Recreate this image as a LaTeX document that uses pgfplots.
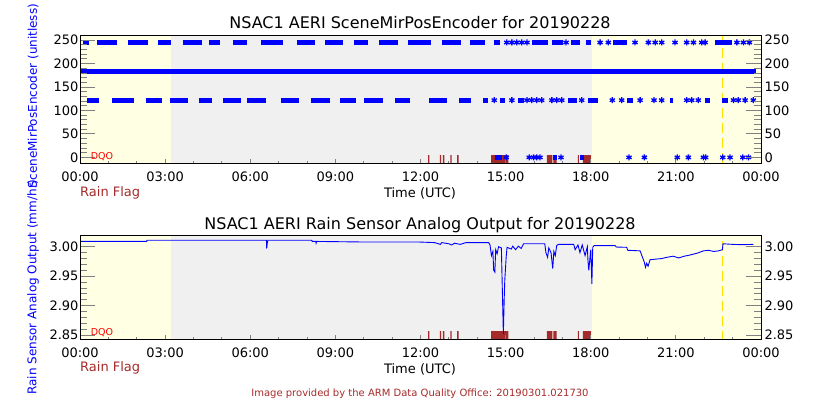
\documentclass[border=0pt]{standalone}
\usepackage{fontspec}
\setmainfont{DejaVu Sans}
\usepackage{pgfplots}
\usepackage{pgfplotstable}
\pgfplotsset{compat=1.18}

\definecolor{bgyellow}{RGB}{255,255,228}
\definecolor{bggray}{RGB}{240,240,240}
\definecolor{flagred}{RGB}{165,42,42}
\definecolor{dqred}{RGB}{255,0,0}
\definecolor{dashyel}{RGB}{255,225,0}

\newcommand{\tfont}{\fontsize{13}{15}\selectfont}

% SceneMirPosEncoder: dense runs drawn as thick bands (nan = gap)
\pgfplotstableread{
t v
0.09 245
0.33 245
nan nan
0.59 245
1.32 245
nan nan
1.70 245
2.39 245
nan nan
2.76 245
3.21 245
nan nan
3.62 245
4.29 245
nan nan
4.56 245
4.93 245
nan nan
5.40 245
5.88 245
nan nan
6.38 245
7.17 245
nan nan
7.66 245
8.29 245
nan nan
8.64 245
9.28 245
nan nan
9.67 245
10.14 245
nan nan
10.54 245
11.20 245
nan nan
11.57 245
12.36 245
nan nan
12.75 245
13.42 245
nan nan
13.75 245
14.28 245
nan nan
14.58 245
14.80 245
nan nan
15.92 245
16.51 245
nan nan
16.63 245
17.01 245
nan nan
17.31 245
17.62 245
nan nan
17.84 245
18.00 245
nan nan
18.80 245
19.27 245
nan nan
22.38 245
22.97 245
nan nan
0.26 122
0.68 122
nan nan
1.12 122
1.90 122
nan nan
2.31 122
2.88 122
nan nan
3.17 122
3.82 122
nan nan
4.21 122
4.65 122
nan nan
5.05 122
5.66 122
nan nan
5.90 122
6.56 122
nan nan
7.07 122
7.73 122
nan nan
8.13 122
8.81 122
nan nan
9.16 122
9.73 122
nan nan
10.02 122
10.67 122
nan nan
11.10 122
11.63 122
nan nan
12.31 122
12.93 122
nan nan
13.36 122
13.78 122
nan nan
14.22 122
14.39 122
nan nan
14.80 122
14.98 122
nan nan
15.45 122
15.63 122
nan nan
17.21 122
17.51 122
nan nan
17.92 122
18.27 122
nan nan
19.27 122
19.50 122
nan nan
20.80 122
20.91 122
nan nan
22.03 122
22.21 122
nan nan
22.62 122
22.85 122
nan nan
14.63 0
14.86 0
nan nan
16.66 0
16.82 0
nan nan
17.62 0
17.76 0
}\segs

% isolated samples
\pgfplotstableread{
t v
15.04 245
15.22 245
15.39 245
15.57 245
15.75 245
17.13 245
18.33 245
18.62 245
19.56 245
20.03 245
20.27 245
20.50 245
20.97 245
21.38 245
21.62 245
21.91 245
22.03 245
23.15 245
23.38 245
23.59 245
14.60 122
15.22 122
15.75 122
15.92 122
16.10 122
16.27 122
16.63 122
16.80 122
16.98 122
17.68 122
18.76 122
19.09 122
19.74 122
20.23 122
20.50 122
21.38 122
21.56 122
21.79 122
23.03 122
23.20 122
23.44 122
23.73 122
15.02 0
15.83 0
15.98 0
16.10 0
16.21 0
16.95 0
19.35 0
19.89 0
21.05 0
21.44 0
21.97 0
22.05 0
22.65 0
22.91 0
23.36 0
23.56 0
}\stars

% rain flag intervals (f=1 flagged)
\pgfplotstableread{
t f
12.27 0
12.27 1
12.31 1
12.31 0
12.68 0
12.68 1
12.73 1
12.73 0
12.79 0
12.79 1
12.84 1
12.84 0
13.05 0
13.05 1
13.10 1
13.10 0
13.29 0
13.29 1
13.34 1
13.34 0
14.49 0
14.49 1
15.10 1
15.10 0
16.45 0
16.45 1
16.65 1
16.65 0
16.68 0
16.68 1
16.80 1
16.80 0
17.55 0
17.55 1
17.58 1
17.58 0
17.72 0
17.72 1
18.00 1
18.00 0
}\flags

% rain sensor analog output
\pgfplotstableread{
t v
0.00 3.009
2.35 3.009
2.36 3.011
6.57 3.011
6.58 2.997
6.60 3.006
6.62 3.011
8.17 3.011
8.18 3.009
8.31 3.009
8.32 3.006
8.34 3.009
10.02 3.008
10.66 3.008
11.95 3.008
12.50 3.007
12.70 3.004
12.75 3.007
13.00 3.005
13.10 3.003
13.20 3.006
13.40 3.004
13.60 3.007
14.40 3.007
14.45 3.003
14.50 2.985
14.55 2.992
14.58 2.960
14.62 2.957
14.65 2.995
14.70 2.988
14.75 3.000
14.85 2.998
14.92 2.852
14.95 2.912
14.97 2.943
15.02 2.983
15.05 2.999
15.20 2.996
15.25 3.001
15.35 2.995
15.45 3.001
15.55 2.997
15.63 3.005
16.38 3.005
16.42 2.990
16.48 2.982
16.52 2.998
16.60 2.990
16.66 2.963
16.70 2.992
16.75 2.985
16.80 3.002
16.86 3.004
17.40 3.004
17.45 2.995
17.55 3.003
17.62 2.990
17.70 3.003
17.80 2.985
17.88 3.000
17.90 2.978
17.93 2.960
17.96 2.975
18.00 2.995
18.04 2.937
18.07 2.999
18.12 3.002
18.86 3.002
18.90 2.9995
19.27 2.999
19.30 2.994
19.74 2.993
19.80 2.985
19.88 2.975
19.93 2.965
19.97 2.972
20.02 2.967
20.09 2.978
20.30 2.979
20.50 2.980
20.68 2.982
20.90 2.984
21.10 2.981
21.30 2.984
21.50 2.986
21.75 2.989
21.97 2.993
22.15 2.994
22.33 2.992
22.50 2.993
22.64 2.995
22.66 3.005
23.00 3.004
23.30 3.0035
23.73 3.004
}\rain

\pgfplotsset{
  base/.style={scale only axis, width=681pt, xmin=0, xmax=24, anchor=south west,
    tick label style={font=\tfont}, /pgf/number format/assume math mode=true,
    tick align=inside, axis line style={line width=0.9pt}, tick style={line width=0.9pt}},
  mainax/.style={base, axis on top, xtick={0,3,...,24},
    xticklabels={00:00,03:00,06:00,09:00,12:00,15:00,18:00,21:00,00:00},
    minor x tick num=2, xtick pos=bottom, ytick=\empty,
    major tick length=4pt, minor tick length=2pt, xticklabel style={yshift=-5pt},
    unbounded coords=jump},
  yleft/.style={base, hide x axis, axis y line*=left, major tick length=15pt,
    minor tick length=7pt, yticklabel style={xshift=2pt}},
  yright/.style={base, hide x axis, axis y line*=right, major tick length=15pt,
    minor tick length=7pt},
  toppanel/.style={at={(80pt,237pt)}, height=128pt, ymin=-12, ymax=261},
  botpanel/.style={at={(80pt,60.7pt)}, height=104.3pt, ymin=2.843, ymax=3.0199},
  topticks/.style={ytick={0,50,...,250}, minor y tick num=4},
  botticks/.style={ytick={2.85,2.90,2.95,3.00}, minor y tick num=4,
    yticklabel style={/pgf/number format/fixed, /pgf/number format/fixed zerofill,
    /pgf/number format/precision=2}},
}

\begin{document}
\begin{tikzpicture}
\useasboundingbox (0,0) rectangle (840pt,400pt);

% ---------------- top panel
\begin{axis}[mainax, toppanel]
\addplot[fill=bgyellow, draw=none] coordinates {(0,-12) (0,261) (3.2,261) (3.2,-12)};
\addplot[fill=bggray, draw=none] coordinates {(3.2,-12) (3.2,261) (18.04,261) (18.04,-12)};
\addplot[fill=bgyellow, draw=none] coordinates {(18.04,-12) (18.04,261) (24,261) (24,-12)};
\addplot[fill=flagred, draw=none] table[x=t, y expr=-13+\thisrow{f}*18] {\flags};
\addplot[dashyel, line width=1pt, dash pattern=on 10pt off 5pt] coordinates {(22.64,-12) (22.64,261)};
\addplot[blue, line width=5pt] coordinates {(0,183) (23.83,183)};
\addplot[blue, line width=5pt] table[x=t, y=v] {\segs};
\addplot[blue, only marks, mark=asterisk, mark size=3pt, line width=1.3pt] table[x=t, y=v] {\stars};
\end{axis}
\begin{axis}[yleft, toppanel, topticks]
\end{axis}
\begin{axis}[yright, toppanel, topticks]
\end{axis}

% ---------------- bottom panel
\begin{axis}[mainax, botpanel]
\addplot[fill=bgyellow, draw=none] coordinates {(0,2.84) (0,3.03) (3.2,3.03) (3.2,2.84)};
\addplot[fill=bggray, draw=none] coordinates {(3.2,2.84) (3.2,3.03) (18.04,3.03) (18.04,2.84)};
\addplot[fill=bgyellow, draw=none] coordinates {(18.04,2.84) (18.04,3.03) (24,3.03) (24,2.84)};
\addplot[fill=flagred, draw=none] table[x=t, y expr=2.840+\thisrow{f}*0.017] {\flags};
\addplot[dashyel, line width=1pt, dash pattern=on 10pt off 5pt] coordinates {(22.64,2.84) (22.64,3.03)};
\addplot[blue, line width=0.9pt] table[x=t, y=v] {\rain};
\end{axis}
\begin{axis}[yleft, botpanel, botticks]
\end{axis}
\begin{axis}[yright, botpanel, botticks]
\end{axis}

% ---------------- text
\node[anchor=base, font=\fontsize{16}{19}\selectfont] at (420pt,371pt) {NSAC1 AERI SceneMirPosEncoder for 20190228};
\node[anchor=base, font=\fontsize{16}{19}\selectfont] at (420pt,171pt) {NSAC1 AERI Rain Sensor Analog Output for 20190228};
\node[anchor=base, font=\tfont] at (420pt,203pt) {Time (UTC)};
\node[anchor=base, font=\tfont] at (420pt,27pt) {Time (UTC)};
\node[anchor=base west, inner sep=0pt, font=\tfont, text=flagred] at (80pt,204pt) {Rain Flag};
\node[anchor=base west, inner sep=0pt, font=\tfont, text=flagred] at (80pt,28.5pt) {Rain Flag};
\node[anchor=base west, inner sep=0pt, font=\fontsize{9.5}{11}\selectfont, text=dqred] at (90.7pt,240.7pt) {DQO};
\node[anchor=base west, inner sep=0pt, font=\fontsize{9.5}{11}\selectfont, text=dqred] at (90.7pt,65pt) {DQO};
\node[rotate=90, inner sep=0pt, font=\fontsize{12}{14}\selectfont, text=blue] at (33pt,304pt) {SceneMirPosEncoder (unitless)};
\node[rotate=90, inner sep=0pt, font=\fontsize{12}{14}\selectfont, text=blue] at (33pt,113pt) {Rain Sensor Analog Output (mm/hr)};
\node[anchor=base, font=\fontsize{10}{12}\selectfont, text=flagred] at (420pt,4pt) {Image provided by the ARM Data Quality Office: 20190301.021730};
\end{tikzpicture}
\end{document}
